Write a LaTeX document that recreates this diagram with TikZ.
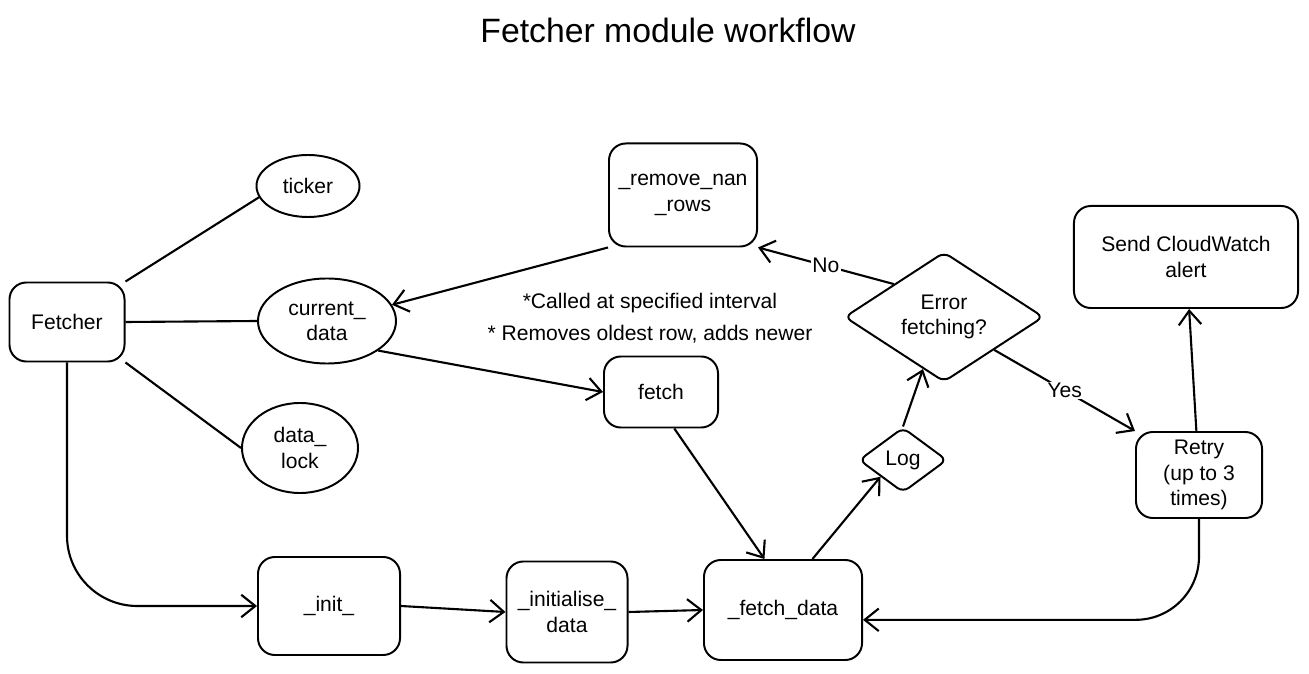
\documentclass[tikz,border=0pt]{standalone}
\usepackage{fontspec}
\setmainfont{Liberation Sans}
\usetikzlibrary{shapes.geometric,arrows.meta}

\begin{document}
\begin{tikzpicture}[x=0.025cm,y=-0.025cm,
  font=\fontsize{15}{18}\selectfont,
  >={Straight Barb[length=10pt,width=16pt]},
  box/.style={draw,rectangle,line width=1.4pt,rounded corners=12pt,align=center,inner sep=2pt},
  oval/.style={draw,ellipse,line width=1.4pt,align=center,inner sep=0pt},
  choice/.style={draw,diamond,line width=1.4pt,rounded corners=5pt,align=center,inner sep=0pt},
  link/.style={line width=1.5pt}]
\useasboundingbox (0,0) rectangle (1309,674);

\node (title) at (668,30) {\fontsize{24}{28}\selectfont Fetcher module workflow};

% class and its fields
\node [box,minimum width=2.875cm,minimum height=1.975cm] (fetcher) at (67,322) {Fetcher};
\node [oval,minimum width=2.575cm,minimum height=1.55cm] (ticker) at (308,186) {ticker};
\node [oval,minimum width=3.45cm,minimum height=2.125cm] (current) at (327,321) {current\_\\data};
\node [oval,minimum width=2.9cm,minimum height=2.25cm] (lock) at (300,448) {data\_\\lock};
\draw [link] (fetcher.north east) -- (ticker.193);
\draw [link] (fetcher.east) -- (current.west);
\draw [link] (fetcher.south east) -- (lock.west);

% methods
\node [box,minimum width=3.7cm,minimum height=2.575cm] (rmnan) at (683,195) {\_remove\_nan\\\_rows};
\node [box,minimum width=2.85cm,minimum height=1.775cm] (fetch) at (661,392) {fetch};
\node [align=center] (note) at (650,318) {*Called at specified interval\\[5pt]* Removes oldest row, adds newer};
\node [box,minimum width=3.55cm,minimum height=2.45cm] (init) at (329,606) {\_init\_};
\node [box,minimum width=3.025cm,minimum height=2.525cm] (initdata) at (567,612) {\_initialise\_\\data};
\node [box,minimum width=3.95cm,minimum height=2.5cm] (fetchdata) at (783,610) {\_fetch\_data};
\node [choice,minimum width=2.2cm,minimum height=1.625cm] (log) at (903,460) {Log};
\node [choice,minimum width=4.975cm,minimum height=2.775cm] (err) at (944,317) {Error\\fetching?};
\node [box,minimum width=3.15cm,minimum height=2.15cm] (retry) at (1199,475) {Retry\\(up to 3\\times)};
\node [box,minimum width=5.6cm,minimum height=2.55cm] (alert) at (1186,257) {Send CloudWatch\\alert};

\draw [->,link,rounded corners=50pt] (fetcher.south) |- (init.west);
\draw [->,link] (init.east) -- (initdata.west);
\draw [->,link] (initdata.east) -- (fetchdata.west);
\draw [->,link] (rmnan.south west) -- (current.14);
\draw [->,link] (current.-30) -- (fetch.west);
\draw [->,link] (fetch.-70) -- (fetchdata.110);
\draw [->,link] (fetchdata.60) -- (log.south west);
\draw [->,link] (log.north) -- (err.248);
\draw [->,link] (err.north west) -- node[fill=white,inner sep=1pt]{No} (rmnan.south east);
\draw [->,link] (err.south east) -- node[fill=white,inner sep=1pt]{Yes} (retry.north west);
\draw [->,link] (retry) -- (alert);
\draw [->,link,rounded corners=45pt] (retry.south) |- (fetchdata.-7);
\end{tikzpicture}
\end{document}
